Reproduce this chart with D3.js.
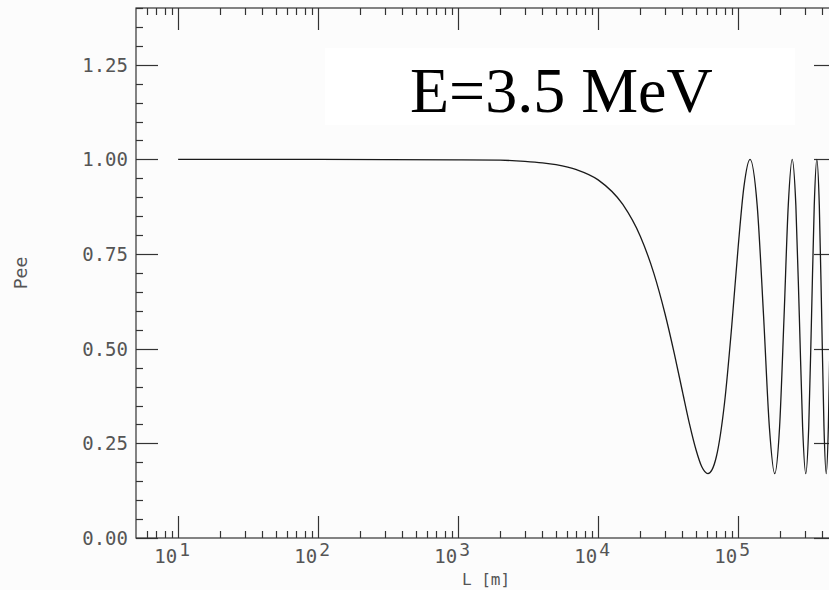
<!DOCTYPE html>
<html>
<head>
<meta charset="utf-8">
<script src="https://cdn.jsdelivr.net/npm/d3@7"></script>
<style>
  html, body { margin: 0; padding: 0; background: #fcfcfc; }
  svg { display: block; }
</style>
</head>
<body>
<svg id="chart" width="829" height="590"></svg>
<script>
// ---- data ----
const distanceL = [10, 100, 1000, 2000, 3000, 4000, 5000, 7000, 10000,
  15000, 20000, 25000, 30000, 35000, 40000, 45000, 50000, 55000,
  60800, 65000, 70000, 80000, 90000, 100000, 110000, 121600,
  136800, 152000, 167200, 182400, 197600, 212800, 228000, 243200,
  258400, 273600, 288800, 304000, 319200, 334400, 349600, 364800,
  380000, 395200, 410400, 425600, 440800, 456000, 471200, 486400, 500000];
const pee = [1.000, 1.000, 0.999, 0.998, 0.995, 0.991, 0.986, 0.973, 0.946,
  0.881, 0.797, 0.699, 0.593, 0.487, 0.387, 0.300, 0.233, 0.188,
  0.170, 0.180, 0.216, 0.358, 0.560, 0.768, 0.928, 1.000,
  0.878, 0.585, 0.292, 0.170, 0.292, 0.585, 0.878, 1.000,
  0.878, 0.585, 0.292, 0.170, 0.292, 0.585, 0.878, 1.000,
  0.878, 0.585, 0.292, 0.170, 0.292, 0.585, 0.878, 1.000, 0.900];
const xDomain = [5, 5e5];
const yDomain = [0, 1.4];
const xMajor = [10, 100, 1000, 10000, 100000];
const xExponents = ["1", "2", "3", "4", "5"];
const yMajor = [0, 0.25, 0.5, 0.75, 1.0, 1.25];
const yLabels = ["0.00", "0.25", "0.50", "0.75", "1.00", "1.25"];
const titleText = "E=3.5 MeV";
const xTitle = "L [m]";
const yTitle = "Pee";

(function () {
// ---- layout ----
const pLeft = 136, pRight = 836, pTop = 8, pBottom = 538;
const svg = d3.select("#chart");
const x = d3.scaleLog().domain(xDomain).range([pLeft, pRight]);
const y = d3.scaleLinear().domain(yDomain).range([pBottom, pTop]);

const points = distanceL.map((d, i) => ({ L: d, p: pee[i] }));

// minor ticks
const xMinor = [];
for (let e = 0; e <= 5; e++) {
  for (let m = 2; m <= 9; m++) {
    const v = m * Math.pow(10, e);
    if (v > xDomain[0] && v < xDomain[1]) xMinor.push(v);
  }
}
const yMinor = d3.range(0, 1.4001, 0.05).filter(v => !yMajor.some(M => Math.abs(M - v) < 1e-6));

const stroke = "#333";
const majorLen = 22, minorLen = 7;

svg.append("clipPath").attr("id", "clip")
  .append("rect").attr("x", pLeft).attr("y", pTop)
  .attr("width", pRight - pLeft).attr("height", pBottom - pTop);

const ax = svg.append("g").attr("stroke", stroke).attr("stroke-width", 1.2).attr("fill", "none");

// frame
ax.append("rect").attr("x", pLeft).attr("y", pTop)
  .attr("width", pRight - pLeft).attr("height", pBottom - pTop);

// x ticks (bottom & top)
xMajor.forEach(v => {
  const px = Math.round(x(v)) + 0.5;
  ax.append("line").attr("x1", px).attr("x2", px).attr("y1", pBottom).attr("y2", pBottom - majorLen);
  ax.append("line").attr("x1", px).attr("x2", px).attr("y1", pTop).attr("y2", pTop + majorLen);
});
xMinor.forEach(v => {
  const px = Math.round(x(v)) + 0.5;
  ax.append("line").attr("x1", px).attr("x2", px).attr("y1", pBottom).attr("y2", pBottom - minorLen);
  ax.append("line").attr("x1", px).attr("x2", px).attr("y1", pTop).attr("y2", pTop + minorLen);
});
// y ticks (left & right)
yMajor.forEach(v => {
  const py = Math.round(y(v)) + 0.5;
  ax.append("line").attr("x1", pLeft).attr("x2", pLeft + majorLen).attr("y1", py).attr("y2", py);
  ax.append("line").attr("x1", pRight).attr("x2", pRight - majorLen).attr("y1", py).attr("y2", py);
});
yMinor.forEach(v => {
  const py = Math.round(y(v)) + 0.5;
  ax.append("line").attr("x1", pLeft).attr("x2", pLeft + minorLen).attr("y1", py).attr("y2", py);
  ax.append("line").attr("x1", pRight).attr("x2", pRight - minorLen).attr("y1", py).attr("y2", py);
});

// tick labels
const labFont = "'DejaVu Sans Mono', monospace";
svg.append("g").selectAll("text").data(yMajor).join("text")
  .attr("x", 128).attr("y", d => y(d) + 7)
  .attr("text-anchor", "end")
  .attr("font-family", labFont).attr("font-size", 19)
  .attr("fill", "#555")
  .text((d, i) => yLabels[i]);

const xl = svg.append("g").attr("font-family", labFont).attr("fill", "#555");
xMajor.forEach((v, i) => {
  xl.append("text").attr("x", x(v) - 1).attr("y", 563)
    .attr("text-anchor", "end").attr("font-size", 19).text("10");
  xl.append("text").attr("x", x(v) + 1).attr("y", 556)
    .attr("text-anchor", "start").attr("font-size", 18).text(xExponents[i]);
});

// axis titles
svg.append("text").attr("x", (pLeft + pRight) / 2).attr("y", 585)
  .attr("text-anchor", "middle").attr("font-family", labFont)
  .attr("font-size", 16).attr("fill", "#555").text(xTitle);
svg.append("text").attr("transform", `translate(27,${(pTop + pBottom) / 2}) rotate(-90)`)
  .attr("text-anchor", "middle").attr("font-family", labFont)
  .attr("font-size", 18).attr("fill", "#555").text(yTitle);

// annotation box
svg.append("rect").attr("x", 325).attr("y", 48).attr("width", 470).attr("height", 77)
  .attr("fill", "#ffffff");
svg.append("text").attr("x", 410).attr("y", 112)
  .attr("font-family", "'Liberation Serif', 'Times New Roman', serif")
  .attr("font-size", 64).attr("fill", "#000").text(titleText);

// curve
const line = d3.line()
  .x(d => x(d.L)).y(d => y(d.p))
  .curve(d3.curveMonotoneX);
svg.append("path").datum(points)
  .attr("clip-path", "url(#clip)")
  .attr("fill", "none").attr("stroke", "#1a1a1a").attr("stroke-width", 1.3)
  .attr("d", line);
})();
</script>
</body>
</html>
